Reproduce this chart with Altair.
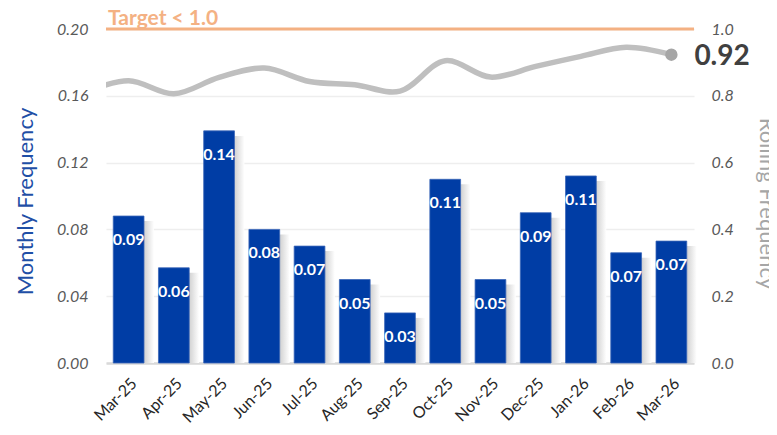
import altair as alt
import pandas as pd

# ---- data ----
months = ["Mar-25", "Apr-25", "May-25", "Jun-25", "Jul-25", "Aug-25", "Sep-25",
          "Oct-25", "Nov-25", "Dec-25", "Jan-26", "Feb-26", "Mar-26"]
monthly = [0.088, 0.057, 0.139, 0.080, 0.070, 0.050, 0.030,
           0.110, 0.050, 0.090, 0.112, 0.066, 0.073]
rolling = [0.845, 0.806, 0.855, 0.883, 0.843, 0.833, 0.814,
           0.905, 0.856, 0.888, 0.918, 0.945, 0.923]
rolling_prev = 0.81   # Feb-25 value, only its segment is visible at the left edge
target = 1.0
target_label = "Target < 1.0"

left_ticks = [0, 0.04, 0.08, 0.12, 0.16, 0.20]
right_ticks = [0, 0.2, 0.4, 0.6, 0.8, 1.0]

# ---- tables ----
bars_df = pd.DataFrame({"month": months, "idx": list(range(len(months))),
                        "monthly": monthly, "zero": [0.0] * len(months)})
line_df = pd.DataFrame({"idx": [-1] + list(range(len(months))), "rolling": [rolling_prev] + rolling})
last_df = line_df.tail(1)
target_df = pd.DataFrame({"tx": [-0.5], "t": [target], "label": [target_label]})

FONT = "Lato"
BLUE = "#003DA5"
GREY_TXT = "#595959"
W, H = 588, 334

def xq(field):
    return alt.X(field, scale=alt.Scale(domain=[-0.5, len(months) - 0.5]), axis=None)

def xband(axis=None):
    return alt.X("month:N", sort=months,
                 scale=alt.Scale(paddingInner=0.32, paddingOuter=0.16), axis=axis)

def yleft(field, axis=None):
    return alt.Y(field, scale=alt.Scale(domain=[0, 0.2]), axis=axis)

def yright(field, axis=None, title=None):
    if title is None:
        return alt.Y(field, scale=alt.Scale(domain=[0, 1.0]), axis=axis)
    return alt.Y(field, scale=alt.Scale(domain=[0, 1.0]), axis=axis, title=title)

# ---- soft bar shadow (gradient strip at the right of each bar) ----
shadow = alt.Chart(bars_df).transform_calculate(
    sx1="datum.idx + 0.30", sx2="datum.idx + 0.56", top="datum.monthly - 0.003"
).mark_rect(
    color=alt.LinearGradient(
        gradient="linear",
        stops=[alt.GradientStop(color="#C9C9C9", offset=0),
               alt.GradientStop(color="#FFFFFF", offset=1)],
        x1=0, x2=1, y1=0, y2=0)
).encode(
    x=xq("sx1:Q"), x2="sx2:Q", y=yleft("top:Q"), y2="zero:Q",
)

# ---- bars ----
x_axis = alt.Axis(title=None, labelAngle=-45, labelFont=FONT, labelFontSize=16,
                  labelColor="#262626", labelAlign="right", labelBaseline="top",
                  labelPadding=12, domainColor="#D9D9D9", domainWidth=2.5,
                  ticks=False, grid=False)
yl_axis = alt.Axis(orient="left", values=left_ticks, format=".2f",
                   title="Monthly Frequency", titleFont=FONT, titleFontSize=22,
                   titleFontWeight="normal", titleColor="#1F4FA6", titlePadding=19,
                   titleY=172,
                   labelFont=FONT, labelFontSize=16, labelFontStyle="italic",
                   labelColor=GREY_TXT, labelPadding=18,
                   domain=False, ticks=False, grid=True,
                   gridColor="#EEEEEE", gridWidth=1.5)

bars = alt.Chart(bars_df).mark_bar(color=BLUE, stroke="#3A66B8", strokeWidth=0.8).encode(
    x=xband(x_axis), y=yleft("monthly:Q", yl_axis))

bar_text = alt.Chart(bars_df).mark_text(
    font=FONT, fontSize=16, fontWeight="bold", color="white", baseline="middle", dy=24
).encode(x=xband(), y=yleft("monthly:Q"), text=alt.Text("monthly:Q", format=".2f"))

# ---- rolling line, target ----
yr_axis = alt.Axis(orient="right", values=right_ticks, format=".1f",
                   titleFont=FONT, titleFontSize=22,
                   titleFontWeight="normal", titleColor="#A6A6A6", titlePadding=21,
                   titleY=174,
                   labelFont=FONT, labelFontSize=16, labelFontStyle="italic",
                   labelColor=GREY_TXT, labelPadding=17,
                   domain=False, ticks=False, grid=False)

line = alt.Chart(line_df).mark_line(
    color="#BFBFBF", strokeWidth=5.5, interpolate="catmull-rom", clip=True
).encode(x=xq("idx:Q"), y=yright("rolling:Q", yr_axis, "Rolling Frequency"))

rule = alt.Chart(target_df).mark_rule(color="#F4B183", strokeWidth=3).encode(
    x=xq("tx:Q"), x2=alt.value(W), y=yright("t:Q"))

target_text = alt.Chart(target_df).mark_text(
    align="left", baseline="alphabetic", dx=2, dy=-4, font=FONT, fontSize=21,
    fontWeight="bold", color="#F4B183"
).encode(x=xq("tx:Q"), y=yright("t:Q"), text="label:N")

dot = alt.Chart(last_df).mark_point(filled=True, size=154, color="#A6A6A6", opacity=1).encode(
    x=xq("idx:Q"), y=yright("rolling:Q"))

end_text = alt.Chart(last_df).mark_text(
    align="left", baseline="middle", dx=23, dy=2, font=FONT, fontSize=28,
    fontWeight="bold", color="#404040"
).encode(x=xq("idx:Q"), y=yright("rolling:Q"), text=alt.Text("rolling:Q", format=".2f"))

chart = alt.layer(shadow, bars, bar_text, line, rule, target_text, dot, end_text).resolve_scale(
    x="independent", y="independent"
).properties(
    width=W, height=H,
    autosize=alt.AutoSizeParams(type="none"),
    padding={"left": 98, "top": 21, "right": 75, "bottom": 62},
).configure_view(stroke=None)

chart.save("out.html", embed_options={"renderer": "svg", "actions": False})
